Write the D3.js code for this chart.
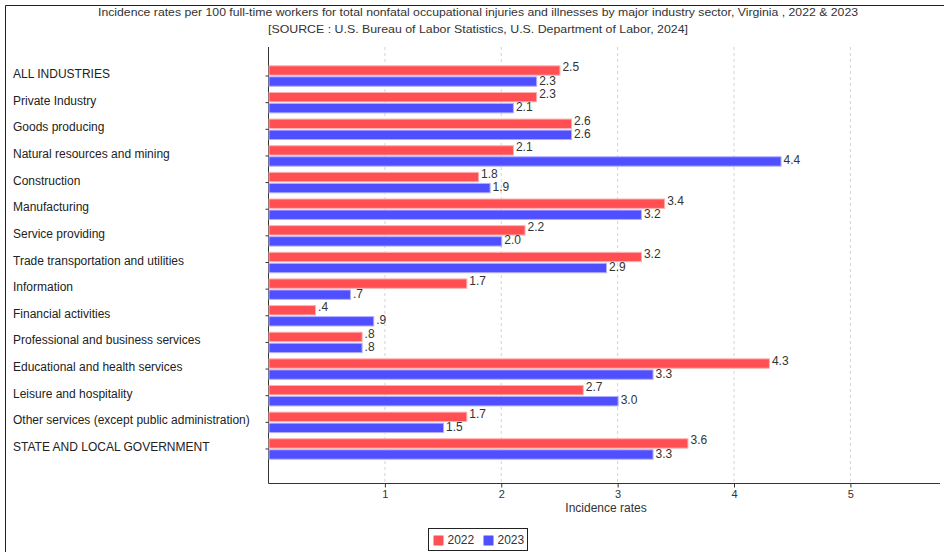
<!DOCTYPE html>
<html><head><meta charset="utf-8">
<script src="https://cdn.jsdelivr.net/npm/d3@7"></script>
<style>body{margin:0;background:#fff;}svg{display:block;font-family:"Liberation Sans",Arial,sans-serif;}</style>
</head><body><svg id="c" width="944" height="552"></svg>
<script>
const categories = ["ALL INDUSTRIES","Private Industry","Goods producing","Natural resources and mining","Construction","Manufacturing","Service providing","Trade transportation and utilities","Information","Financial activities","Professional and business services","Educational and health services","Leisure and hospitality","Other services (except public administration)","STATE AND LOCAL GOVERNMENT"];
const series = ["2022","2023"];
const values2022 = [2.5,2.3,2.6,2.1,1.8,3.4,2.2,3.2,1.7,0.4,0.8,4.3,2.7,1.7,3.6];
const values2023 = [2.3,2.1,2.6,4.4,1.9,3.2,2.0,2.9,0.7,0.9,0.8,3.3,3.0,1.5,3.3];
const xTicks = [1,2,3,4,5];
const colors = ["#ff4f52","#4f4fff"];

const svg = d3.select("#c");
// frame
svg.append("line").attr("x1",5.5).attr("x2",944).attr("y1",5.5).attr("y2",5.5).attr("stroke","#222");
svg.append("line").attr("x1",5.5).attr("x2",5.5).attr("y1",5.5).attr("y2",552).attr("stroke","#222");

svg.append("text").attr("x",478).attr("y",16).attr("text-anchor","middle").attr("font-size",11.5).attr("fill","#333")
  .attr("textLength",760).attr("lengthAdjust","spacingAndGlyphs")
  .text("Incidence rates per 100 full-time workers for total nonfatal occupational injuries and illnesses by major industry sector, Virginia , 2022 & 2023");
svg.append("text").attr("x",478).attr("y",33).attr("text-anchor","middle").attr("font-size",11.5).attr("fill","#333")
  .attr("textLength",420).attr("lengthAdjust","spacingAndGlyphs")
  .text("[SOURCE : U.S. Bureau of Labor Statistics, U.S. Department of Labor, 2024]");

const x = d3.scaleLinear().domain([0,5.77]).range([268.5,940]);
const y = d3.scaleBand().domain(categories).range([62.7,462.3]);
const sub = d3.scaleBand().domain(series).range([2,y.bandwidth()-2]).paddingInner(0.15).paddingOuter(0.1);
const plotTop = 47, plotBottom = 483.5;

// grid
svg.append("g").selectAll("line").data(xTicks).join("line")
  .attr("x1",d=>x(d)).attr("x2",d=>x(d)).attr("y1",plotTop).attr("y2",plotBottom)
  .attr("stroke","#d4d4d4").attr("stroke-dasharray","3,3");

// axes
const xAxis = d3.axisBottom(x).tickValues(xTicks).tickSize(4).tickFormat(d3.format("d"));
const gx = svg.append("g").attr("transform",`translate(0,${plotBottom})`).call(xAxis);
gx.select(".domain").attr("stroke","#333").attr("d",`M${x(0)},0H940`);
gx.selectAll(".tick line").attr("stroke","#333");
gx.selectAll(".tick text").attr("font-size",11).attr("fill","#333").attr("font-family","Liberation Sans, Arial, sans-serif");

const yAxis = d3.axisLeft(y).tickSize(3).tickFormat("");
const gy = svg.append("g").attr("transform",`translate(${x(0)},0)`).call(yAxis);
gy.select(".domain").attr("stroke","#333").attr("d",`M0,${plotTop}V${plotBottom}`);
gy.selectAll(".tick line").attr("stroke","#333");

// category labels
svg.append("g").selectAll("text").data(categories).join("text")
  .attr("x",13).attr("y",d=>y(d)+y.bandwidth()/2+2)
  .attr("font-size",12).attr("fill","#222").text(d=>d);

svg.append("text").attr("x",x(2.9)).attr("y",512).attr("text-anchor","middle").attr("font-size",12).attr("fill","#333").text("Incidence rates");

const fmt = v => d3.format(".1f")(v).replace(/^0/,"");
const data = [];
categories.forEach((c,i)=>{data.push({c,s:"2022",v:values2022[i],col:colors[0]});data.push({c,s:"2023",v:values2023[i],col:colors[1]});});

svg.append("g").selectAll("rect").data(data).join("rect")
  .attr("x",x(0)+0.5).attr("y",d=>y(d.c)+sub(d.s)).attr("width",d=>x(d.v)-x(0))
  .attr("height",sub.bandwidth()).attr("fill",d=>d.col)
  .attr("stroke",d=>d.s==="2022"?"#ffb0b0":"#b0b0ff").attr("stroke-width",1);

svg.append("g").selectAll("text").data(data).join("text")
  .attr("x",d=>x(d.v)+3).attr("y",d=>y(d.c)+sub(d.s)+sub.bandwidth()/2+(d.s==="2022"?1:3))
  .attr("font-size",12).attr("fill","#333").text(d=>fmt(d.v));

// legend
const lg = svg.append("g").attr("transform","translate(428.5,528.5)");
lg.append("rect").attr("width",99).attr("height",22).attr("fill","#fff").attr("stroke","#222");
series.forEach((s,i)=>{
  const g = lg.append("g").attr("transform",`translate(${5+i*50},0)`);
  g.append("rect").attr("x",0).attr("y",7).attr("width",10).attr("height",10).attr("fill",colors[i]);
  g.append("text").attr("x",14).attr("y",15).attr("font-size",12).attr("fill","#333").text(s);
});
</script></body></html>
